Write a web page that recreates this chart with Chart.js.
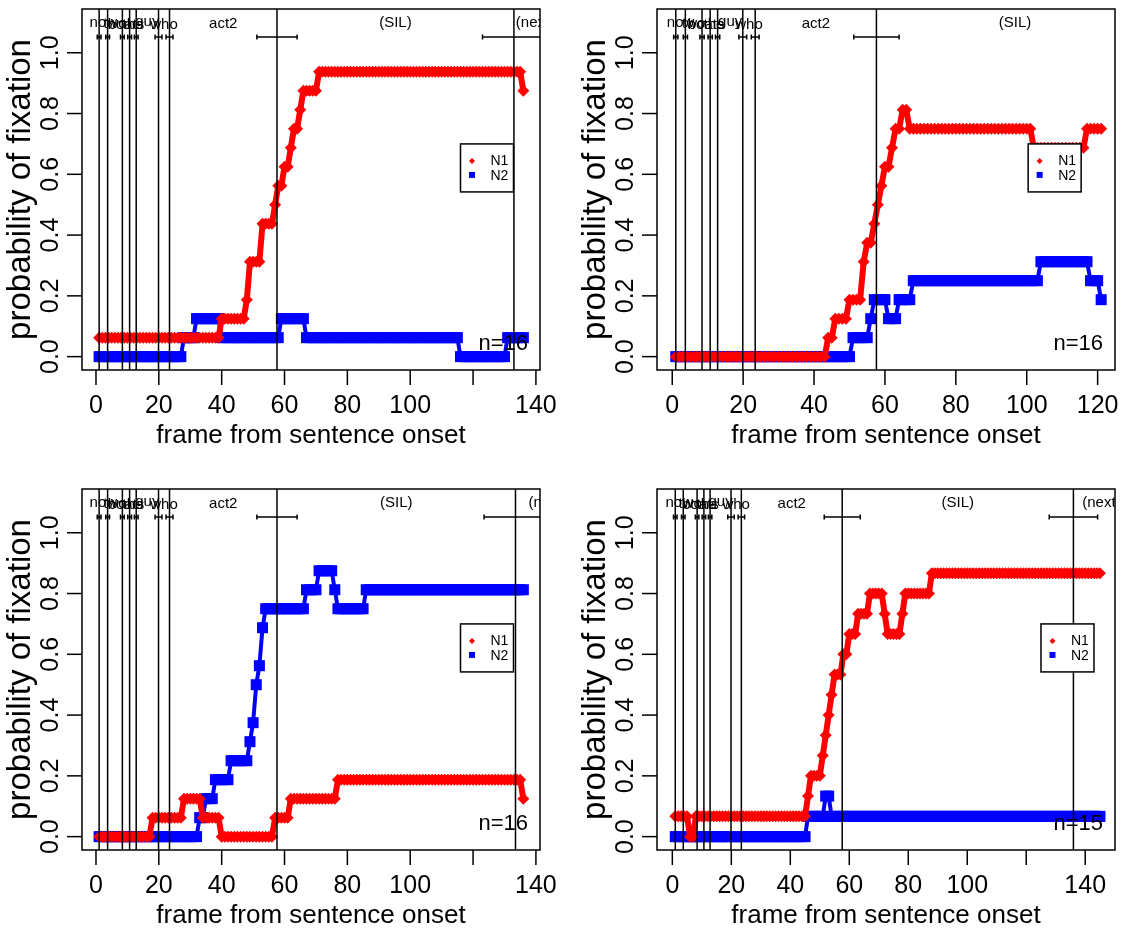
<!DOCTYPE html>
<html>
<head>
<meta charset="utf-8">
<script src="https://cdn.jsdelivr.net/npm/chart.js@4.4.1/dist/chart.umd.min.js"></script>
<style>
  html, body { margin: 0; padding: 0; background: #fff; }
  #page { position: relative; width: 1123px; height: 930px; }
  canvas { position: absolute; }
</style>
</head>
<body>
<div id="page">
  <canvas id="p1" width="561" height="465" style="left:0;top:0"></canvas>
  <canvas id="p2" width="562" height="465" style="left:561px;top:0"></canvas>
  <canvas id="p3" width="561" height="465" style="left:0;top:465px"></canvas>
  <canvas id="p4" width="562" height="465" style="left:561px;top:465px"></canvas>
</div>
<script>
// fixation runs per video frame: [trials fixating, first frame, last frame]
const p1N1 = [[1,1,39],[2,40,47],[3,48,48],[5,49,52],[7,53,56],[8,57,57],[9,58,59],[10,60,61],[11,62,62],[12,63,64],[13,65,65],[14,66,70],[15,71,135],[14,136,136]];
const p1N2 = [[0,1,27],[1,28,31],[2,32,39],[1,40,58],[2,59,66],[1,67,115],[0,116,130],[1,131,136]];

const p2N1 = [[0,1,43],[1,44,45],[2,46,49],[3,50,53],[5,54,54],[6,55,56],[7,57,57],[8,58,58],[9,59,59],[10,60,61],[11,62,62],[12,63,64],[13,65,66],[12,67,101],[11,102,116],[12,117,121]];
const p2N2 = [[0,1,50],[1,51,55],[2,56,56],[3,57,60],[2,61,63],[3,64,67],[4,68,103],[5,104,117],[4,118,120],[3,121,121]];

const p3N1 = [[0,1,17],[1,18,27],[2,28,33],[1,34,39],[0,40,56],[1,57,61],[2,62,76],[3,77,135],[2,136,136]];
const p3N2 = [[0,1,32],[1,33,34],[2,35,37],[3,38,42],[4,43,48],[5,49,49],[6,50,50],[8,51,51],[9,52,52],[11,53,53],[12,54,66],[13,67,70],[14,71,75],[13,76,76],[12,77,85],[13,86,136]];

const p4N1 = [[1,1,5],[0,6,7],[1,8,45],[2,46,46],[3,47,50],[4,51,51],[5,52,52],[6,53,53],[7,54,54],[8,55,57],[9,58,59],[10,60,62],[11,63,66],[12,67,71],[11,72,72],[10,73,77],[11,78,78],[12,79,87],[13,88,145]];
const p4N2 = [[0,1,45],[1,46,51],[2,52,53],[1,54,145]];

const nTrials = [16, 16, 16, 15];

// words of the sentence and the frames where each one starts/ends
const words = ["now", "two", "boats", "the", "guy", "who", "act2", "(SIL)", "(next)"];
const p1Bounds = [1, 3.7, 8.4, 10.7, 12.8, 19.9, 23.4, 57.6, 133, 146.4];
const p2Bounds = [1, 3.7, 8.4, 10.7, 12.8, 19.9, 23.4, 57.6, 135.8, 150];
const p3Bounds = [1, 3.7, 8.4, 10.7, 12.8, 19.9, 23.4, 57.6, 133.5, 154];
const p4Bounds = [1, 3.7, 8.4, 10.7, 12.8, 19.9, 23.4, 57.6, 136, 155];
// half width (frames) of the onset spread bars
const p1Spread = [0.6, 0.6, 0.6, 0.6, 0.6, 1.1, 1.1, 6.4, 10];
const p4Spread = [0.6, 0.6, 0.6, 0.6, 0.6, 1.1, 1.1, 6.1, 8.2];

const xTicks = [0, 20, 40, 60, 80, 100, 120, 140];
const yTicks = [0, 0.2, 0.4, 0.6, 0.8, 1.0];
const yTickLabels = ["0.0", "0.2", "0.4", "0.6", "0.8", "1.0"];

const FONT = '"Liberation Sans", Arial, Helvetica, sans-serif';

function expand(runs, n) {
  const pts = [];
  runs.forEach(([k, a, b]) => {
    for (let f = a; f <= b; f++) pts.push({ x: f, y: k / n });
  });
  return pts;
}

function seg(ctx, x0, y0, x1, y1) {
  ctx.beginPath(); ctx.moveTo(x0, y0); ctx.lineTo(x1, y1); ctx.stroke();
}

// onset lines, word labels, legend, box and R-style axes
function deco(cfg) {
  return {
    id: 'deco',
    afterDatasetsDraw(chart) {
      const ctx = chart.ctx, a = chart.chartArea;
      const xs = chart.scales.x, ys = chart.scales.y;
      ctx.save();
      ctx.beginPath();
      ctx.rect(a.left, a.top, a.right - a.left, a.bottom - a.top);
      ctx.clip();
      ctx.strokeStyle = '#000';
      ctx.lineWidth = 1.5;
      const by = a.top + 28;
      cfg.bounds.slice(0, -1).forEach((b, i) => {
        const x = xs.getPixelForValue(b);
        seg(ctx, x, a.top, x, a.bottom);
        const x0 = xs.getPixelForValue(b - cfg.spread[i]);
        const x1 = xs.getPixelForValue(b + cfg.spread[i]);
        seg(ctx, x0, by, x1, by);
        seg(ctx, x0, by - 2.5, x0, by + 2.5);
        seg(ctx, x1, by - 2.5, x1, by + 2.5);
      });
      ctx.fillStyle = '#000';
      ctx.font = '15px ' + FONT;
      ctx.textAlign = 'center';
      ctx.textBaseline = 'alphabetic';
      words.forEach((w, i) => {
        const c = (cfg.bounds[i] + cfg.bounds[i + 1]) / 2;
        const m = ctx.measureText(w);
        const base = a.top + 14 + (m.actualBoundingBoxAscent - m.actualBoundingBoxDescent) / 2;
        ctx.fillText(w, xs.getPixelForValue(c), base);
      });
      ctx.restore();

      ctx.save();
      ctx.strokeStyle = '#000';
      ctx.fillStyle = '#000';
      // legend
      const lx = xs.getPixelForValue(cfg.legendX), ly = ys.getPixelForValue(0.7);
      ctx.fillStyle = '#fff';
      ctx.fillRect(lx, ly, 53, 48);
      ctx.lineWidth = 1.5;
      ctx.strokeRect(lx, ly, 53, 48);
      ctx.fillStyle = '#ff0000';
      ctx.beginPath();
      ctx.moveTo(lx + 11.5, ly + 14); ctx.lineTo(lx + 14.5, ly + 17);
      ctx.lineTo(lx + 11.5, ly + 20); ctx.lineTo(lx + 8.5, ly + 17);
      ctx.closePath(); ctx.fill();
      ctx.fillStyle = '#0000ff';
      ctx.fillRect(lx + 8.5, ly + 28, 6, 6);
      ctx.fillStyle = '#000';
      ctx.font = '14px ' + FONT;
      ctx.textAlign = 'left';
      ctx.textBaseline = 'middle';
      ctx.fillText('N1', lx + 30, ly + 17);
      ctx.fillText('N2', lx + 30, ly + 32);

      // trial count
      ctx.font = '22px ' + FONT;
      ctx.textAlign = 'right';
      ctx.textBaseline = 'alphabetic';
      ctx.fillText('n=' + cfg.n, a.right - 12, a.bottom - 20);

      // box
      ctx.lineWidth = 1.5;
      ctx.strokeRect(a.left, a.top, a.right - a.left, a.bottom - a.top);

      // x axis
      ctx.font = '25px ' + FONT;
      ctx.textAlign = 'center';
      xTicks.forEach(t => {
        if (t < xs.min || t > xs.max) return;
        const x = xs.getPixelForValue(t);
        seg(ctx, x, a.bottom, x, a.bottom + 15);
        if (!cfg.skipX.includes(t)) ctx.fillText(String(t), x, a.bottom + 43);
      });
      ctx.font = '26px ' + FONT;
      ctx.fillText('frame from sentence onset', (a.left + a.right) / 2, a.bottom + 73);

      // y axis
      yTicks.forEach((t, i) => {
        const y = ys.getPixelForValue(t);
        seg(ctx, a.left - 15, y, a.left, y);
        ctx.save();
        ctx.translate(a.left - 24, y);
        ctx.rotate(-Math.PI / 2);
        ctx.font = '25px ' + FONT;
        ctx.textAlign = 'center';
        ctx.fillText(yTickLabels[i], 0, 0);
        ctx.restore();
      });
      ctx.save();
      ctx.translate(a.left - 52, (a.top + a.bottom) / 2);
      ctx.rotate(-Math.PI / 2);
      ctx.font = '33px ' + FONT;
      ctx.textAlign = 'center';
      ctx.fillText('probability of fixation', 0, 0);
      ctx.restore();
      ctx.restore();
    }
  };
}

function panel(id, n1, n2, cfg) {
  new Chart(document.getElementById(id), {
    type: 'line',
    data: {
      datasets: [
        {
          label: 'N1', data: expand(n1, cfg.n),
          borderColor: '#ff0000', backgroundColor: '#ff0000',
          borderWidth: 6, borderJoinStyle: 'round', borderCapStyle: 'round',
          pointStyle: 'rectRot', pointRadius: 6, pointBorderWidth: 0, pointHoverRadius: 6
        },
        {
          label: 'N2', data: expand(n2, cfg.n),
          borderColor: '#0000ff', backgroundColor: '#0000ff',
          borderWidth: 4, borderJoinStyle: 'round', borderCapStyle: 'round',
          pointStyle: 'rect', pointRadius: 7.8, pointBorderWidth: 0, pointHoverRadius: 7.8
        }
      ]
    },
    options: {
      responsive: false,
      animation: false,
      devicePixelRatio: 1,
      events: [],
      layout: { padding: cfg.pad },
      plugins: { legend: { display: false }, tooltip: { enabled: false } },
      scales: {
        x: { type: 'linear', min: cfg.xmin, max: cfg.xmax, display: false },
        y: { type: 'linear', min: -0.044, max: 1.144, display: false }
      }
    },
    plugins: [deco(cfg)]
  });
}

panel('p1', p1N1, p1N2, { n: nTrials[0], xmin: -4.45, xmax: 141.3, bounds: p1Bounds, spread: p1Spread,
  legendX: 116, skipX: [120], pad: { left: 82, top: 9, right: 21, bottom: 95 } });
panel('p2', p2N1, p2N2, { n: nTrials[1], xmin: -4.3, xmax: 124.9, bounds: p2Bounds, spread: p1Spread,
  legendX: 100.4, skipX: [], pad: { left: 96, top: 9, right: 8, bottom: 95 } });
panel('p3', p3N1, p3N2, { n: nTrials[2], xmin: -4.45, xmax: 141.3, bounds: p3Bounds, spread: p1Spread,
  legendX: 116, skipX: [120], pad: { left: 82, top: 24, right: 21, bottom: 80 } });
panel('p4', p4N1, p4N2, { n: nTrials[3], xmin: -5.2, xmax: 150.1, bounds: p4Bounds, spread: p4Spread,
  legendX: 125, skipX: [120], pad: { left: 96, top: 24, right: 8, bottom: 80 } });
</script>
</body>
</html>
